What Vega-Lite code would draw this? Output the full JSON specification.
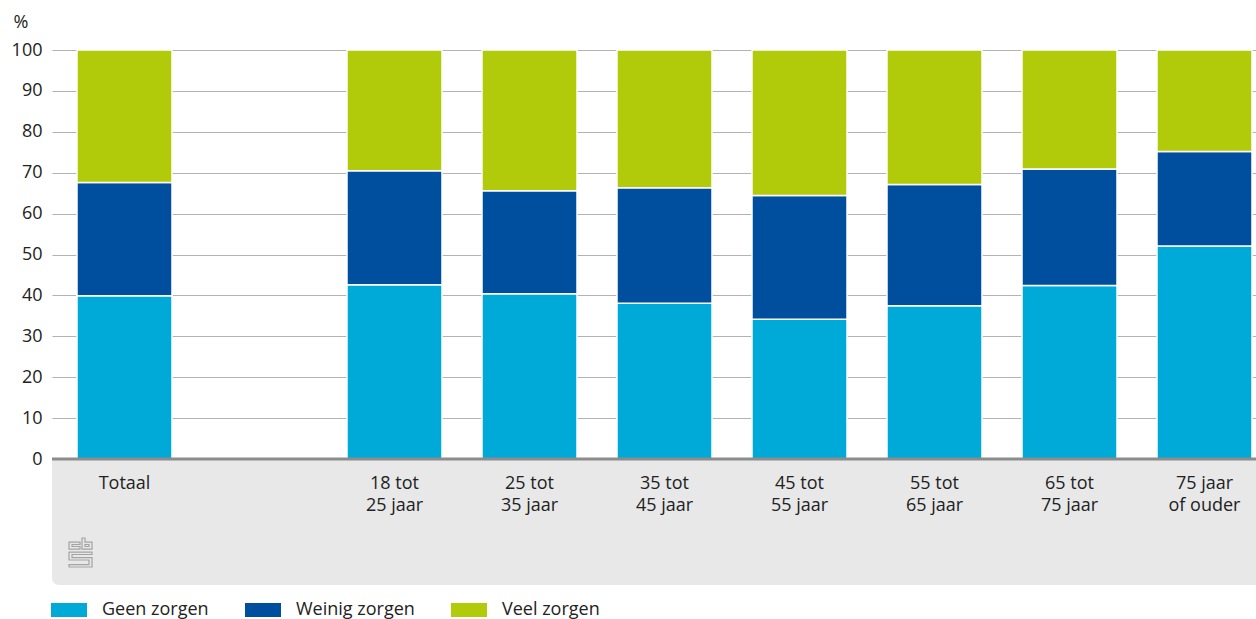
{
  "$schema": "https://vega.github.io/schema/vega-lite/v6.json",
  "width": 1204,
  "height": 535,
  "autosize": {"type": "none"},
  "padding": {"left": 52, "top": 50, "right": 0, "bottom": 34},
  "background": "white",
  "config": {"view": {"stroke": null}, "font": "Open Sans"},
  "data": {
    "values": [
      {"cat": "Totaal", "serie": "Geen zorgen", "ord": 1, "value": 39.9},
      {"cat": "Totaal", "serie": "Weinig zorgen", "ord": 2, "value": 27.7},
      {"cat": "Totaal", "serie": "Veel zorgen", "ord": 3, "value": 32.4},
      {"cat": "18 tot|25 jaar", "serie": "Geen zorgen", "ord": 1, "value": 42.6},
      {"cat": "18 tot|25 jaar", "serie": "Weinig zorgen", "ord": 2, "value": 27.9},
      {"cat": "18 tot|25 jaar", "serie": "Veel zorgen", "ord": 3, "value": 29.5},
      {"cat": "25 tot|35 jaar", "serie": "Geen zorgen", "ord": 1, "value": 40.4},
      {"cat": "25 tot|35 jaar", "serie": "Weinig zorgen", "ord": 2, "value": 25.2},
      {"cat": "25 tot|35 jaar", "serie": "Veel zorgen", "ord": 3, "value": 34.4},
      {"cat": "35 tot|45 jaar", "serie": "Geen zorgen", "ord": 1, "value": 38.1},
      {"cat": "35 tot|45 jaar", "serie": "Weinig zorgen", "ord": 2, "value": 28.2},
      {"cat": "35 tot|45 jaar", "serie": "Veel zorgen", "ord": 3, "value": 33.7},
      {"cat": "45 tot|55 jaar", "serie": "Geen zorgen", "ord": 1, "value": 34.2},
      {"cat": "45 tot|55 jaar", "serie": "Weinig zorgen", "ord": 2, "value": 30.2},
      {"cat": "45 tot|55 jaar", "serie": "Veel zorgen", "ord": 3, "value": 35.6},
      {"cat": "55 tot|65 jaar", "serie": "Geen zorgen", "ord": 1, "value": 37.5},
      {"cat": "55 tot|65 jaar", "serie": "Weinig zorgen", "ord": 2, "value": 29.6},
      {"cat": "55 tot|65 jaar", "serie": "Veel zorgen", "ord": 3, "value": 32.9},
      {"cat": "65 tot|75 jaar", "serie": "Geen zorgen", "ord": 1, "value": 42.4},
      {"cat": "65 tot|75 jaar", "serie": "Weinig zorgen", "ord": 2, "value": 28.5},
      {"cat": "65 tot|75 jaar", "serie": "Veel zorgen", "ord": 3, "value": 29.1},
      {"cat": "75 jaar|of ouder", "serie": "Geen zorgen", "ord": 1, "value": 52.1},
      {"cat": "75 jaar|of ouder", "serie": "Weinig zorgen", "ord": 2, "value": 23.1},
      {"cat": "75 jaar|of ouder", "serie": "Veel zorgen", "ord": 3, "value": 24.8}
    ]
  },
  "layer": [
    {
      "data": {"values": [{"panel": 1}]},
      "mark": {"type": "rect", "color": "#e8e8e8", "cornerRadiusBottomLeft": 7},
      "encoding": {
        "x": {"value": 0},
        "x2": {"value": "width"},
        "y": {"datum": -30.8, "type": "quantitative"},
        "y2": {"datum": 0}
      }
    },
    {
      "mark": {"type": "bar", "stroke": "white", "strokeWidth": 1.5},
      "encoding": {
        "x": {
          "field": "cat",
          "type": "nominal",
          "sort": null,
          "scale": {
            "domain": ["Totaal", "", "18 tot|25 jaar", "25 tot|35 jaar", "35 tot|45 jaar", "45 tot|55 jaar", "55 tot|65 jaar", "65 tot|75 jaar", "75 jaar|of ouder"],
            "paddingInner": 0.2963,
            "paddingOuter": 0.1074,
            "align": 0.862
          },
          "axis": {
            "orient": "bottom",
            "offset": -126,
            "zindex": 2,
            "title": null,
            "domain": false,
            "ticks": false,
            "grid": false,
            "labelAngle": 0,
            "labelPadding": 15,
            "labelFontSize": 18,
            "labelColor": "#222222",
            "labelLineHeight": 22,
            "labelExpr": "split(datum.label, '|')"
          }
        },
        "y": {
          "field": "value",
          "type": "quantitative",
          "stack": "zero",
          "scale": {"domain": [-30.8, 100], "nice": false, "zero": false},
          "axis": {
            "values": [0, 10, 20, 30, 40, 50, 60, 70, 80, 90, 100],
            "title": "%",
            "titleFontSize": 18,
            "titleFontWeight": "normal",
            "titleColor": "#222222",
            "titleAngle": 0,
            "titleAlign": "left",
            "titleBaseline": "middle",
            "titleX": -39,
            "titleY": -28,
            "domain": false,
            "ticks": false,
            "grid": true,
            "gridColor": "#b3b3b3",
            "gridWidth": 1,
            "labelFontSize": 18,
            "labelColor": "#222222",
            "labelPadding": 10
          }
        },
        "color": {
          "field": "serie",
          "type": "nominal",
          "scale": {
            "domain": ["Geen zorgen", "Weinig zorgen", "Veel zorgen"],
            "range": ["#00aad8", "#004f9e", "#b1cb0b"]
          },
          "legend": {
            "orient": "none",
            "legendX": -1,
            "legendY": 542,
            "direction": "horizontal",
            "title": null,
            "symbolType": "M-1,-0.39H1V0.39H-1Z",
            "symbolSize": 1296,
            "symbolStrokeWidth": 0,
            "symbolOpacity": 1,
            "labelFontSize": 18,
            "labelColor": "#222222",
            "labelOffset": 15,
            "columnPadding": 36
          }
        },
        "order": {"field": "ord", "type": "quantitative"}
      }
    },
    {
      "data": {"values": [{"base": 0}]},
      "mark": {"type": "rule", "color": "#8c8c8c", "strokeWidth": 3},
      "encoding": {"y": {"datum": 0}}
    },
    {
      "data": {"values": [{"logo": "cbs"}]},
      "mark": {
        "type": "point",
        "filled": false,
        "stroke": "#a3a3a3",
        "strokeWidth": 1.2,
        "opacity": 1,
        "size": 841,
        "shape": "M-0.793,-0.724H-0.034V-0.552H-0.586V-0.414H-0.034V-0.241H-0.793Z M0.103,-1H0.310V-0.724H0.793V-0.241H0.103Z M0.310,-0.552H0.586V-0.414H0.310Z M-0.793,-0.034H0.793V0.138H-0.586V0.345H0.793V1H-0.793V0.828H0.586V0.517H-0.793Z"
      },
      "encoding": {
        "x": {"datum": "Totaal", "type": "nominal", "bandPosition": 0.037},
        "y": {"datum": -22.86, "type": "quantitative"}
      }
    }
  ]
}
